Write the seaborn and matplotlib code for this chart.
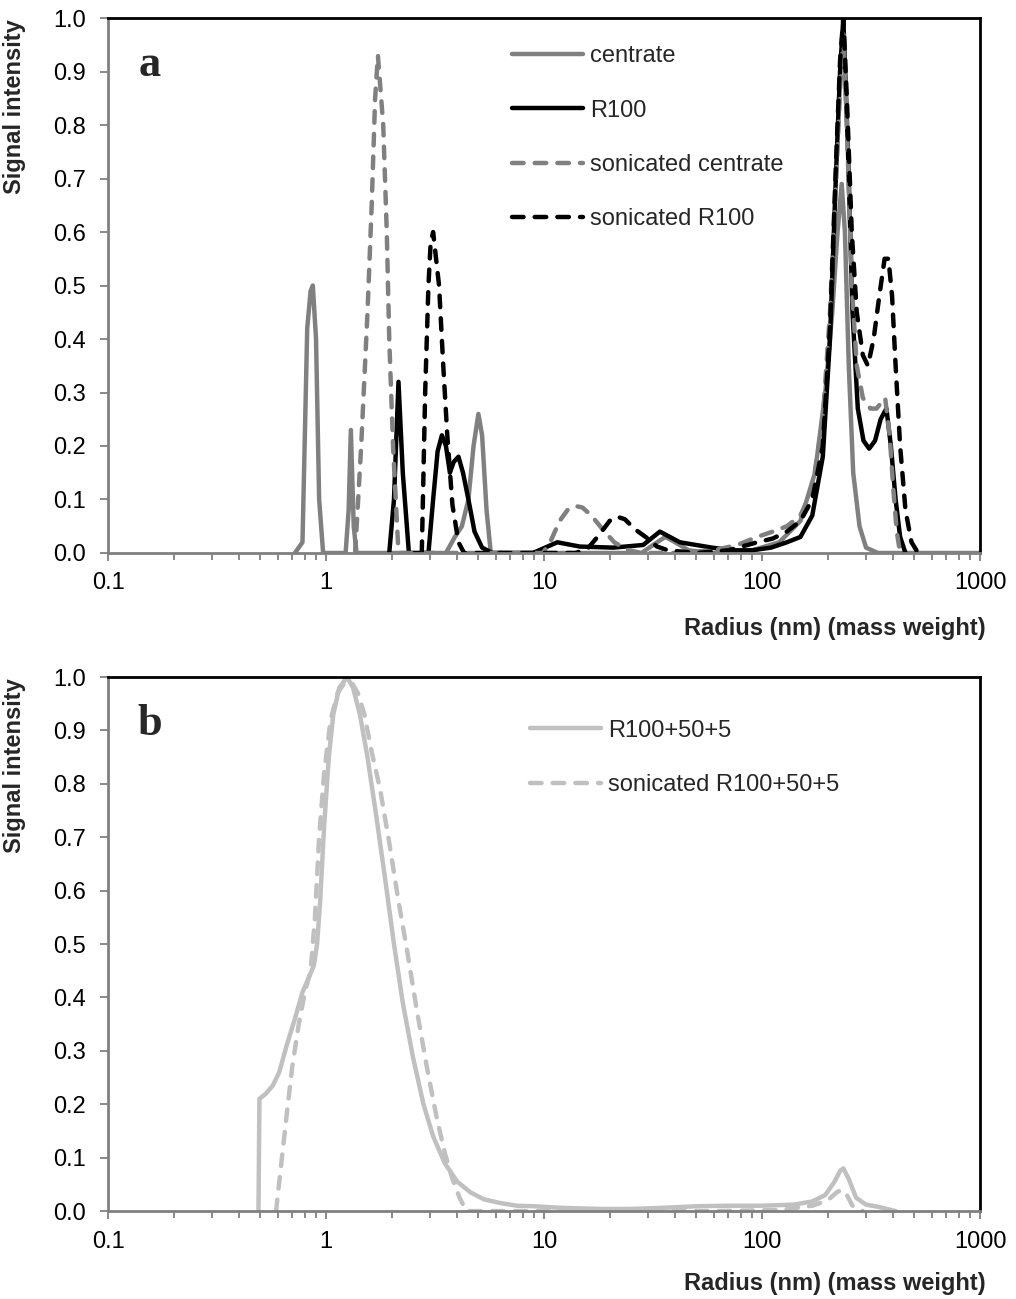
import numpy as np
import pandas as pd
import matplotlib
matplotlib.use("Agg")
import matplotlib.pyplot as plt
import seaborn as sns

# ---- panel a: radius (nm) and signal intensity ----
centrate_r = [0.72, 0.78, 0.82, 0.85, 0.87, 0.90, 0.93, 0.97, 1.23, 1.27, 1.30, 1.34, 1.38,
              3.55, 3.9, 4.2, 4.5, 4.75, 5.0, 5.2, 5.45, 5.7, 28, 33, 36, 40, 46, 60, 90,
              120, 150, 175, 195, 210, 222, 232, 240, 250, 262, 280, 300, 340, 1000]
centrate_y = [0, 0.02, 0.42, 0.49, 0.50, 0.40, 0.10, 0, 0, 0.08, 0.23, 0.05, 0,
              0, 0.03, 0.05, 0.10, 0.20, 0.26, 0.22, 0.08, 0, 0, 0.02, 0.03, 0.02, 0.005, 0, 0.005,
              0.02, 0.06, 0.15, 0.30, 0.45, 0.60, 0.69, 0.60, 0.35, 0.15, 0.05, 0.01, 0, 0]

r100_r = [1.95, 2.05, 2.15, 2.25, 2.4, 2.95, 3.1, 3.25, 3.4, 3.55, 3.7, 3.85, 4.05, 4.25, 4.5,
          4.8, 5.2, 5.8, 8.9, 11.5, 14.6, 20.8, 28.5, 34, 42, 59, 73, 90, 110, 130, 150, 170,
          190, 205, 218, 228, 236, 248, 260, 275, 292, 310, 330, 350, 372, 390, 410, 430, 455]
r100_y = [0, 0.10, 0.32, 0.15, 0, 0, 0.10, 0.19, 0.22, 0.20, 0.15, 0.17, 0.18, 0.15, 0.10,
          0.04, 0.01, 0, 0, 0.02, 0.012, 0.01, 0.015, 0.04, 0.02, 0.01, 0.005, 0.005, 0.01, 0.02, 0.03, 0.07,
          0.18, 0.40, 0.70, 0.90, 1.0, 0.75, 0.45, 0.27, 0.21, 0.195, 0.21, 0.25, 0.27, 0.20, 0.10, 0.03, 0]

son_centrate_r = [1.36, 1.45, 1.55, 1.62, 1.68, 1.73, 1.83, 1.90, 1.95, 2.03, 2.15, 9.9, 10.8,
                  11.8, 12.8, 13.9, 15.0, 16.5, 18.5, 21, 24, 28, 40, 60, 77, 95, 112, 130,
                  150, 170, 190, 205, 220, 230, 236, 245, 258, 272, 290, 314, 335, 367, 385,
                  400, 415, 430]
son_centrate_y = [0, 0.20, 0.45, 0.65, 0.85, 0.93, 0.80, 0.60, 0.40, 0.20, 0, 0, 0.025,
                  0.06, 0.08, 0.088, 0.085, 0.07, 0.045, 0.02, 0.006, 0, 0, 0.005, 0.015, 0.03, 0.04, 0.05,
                  0.07, 0.12, 0.25, 0.45, 0.72, 0.90, 0.97, 0.80, 0.50, 0.35, 0.29, 0.27, 0.27, 0.29, 0.22,
                  0.12, 0.04, 0]

son_r100_r = [2.75, 2.85, 2.95, 3.02, 3.1, 3.3, 3.45, 3.6, 3.8, 4.05, 4.3, 14, 16, 18, 20,
              21.6, 23.5, 26, 29.7, 33, 37, 50, 70, 95, 112, 130, 150, 170, 190, 205, 218,
              228, 236, 245, 258, 272, 290, 306, 325, 345, 365, 380, 395, 410, 430, 455, 485, 520]
son_r100_y = [0, 0.30, 0.50, 0.58, 0.60, 0.50, 0.35, 0.22, 0.09, 0.02, 0, 0, 0.01, 0.035, 0.06,
              0.068, 0.063, 0.045, 0.028, 0.012, 0.005, 0, 0.005, 0.02, 0.027, 0.04, 0.06, 0.10, 0.20, 0.42, 0.72,
              0.92, 1.0, 0.85, 0.60, 0.45, 0.37, 0.35, 0.40, 0.48, 0.55, 0.55, 0.48, 0.35, 0.20, 0.08, 0.02, 0]

# ---- panel b ----
mix_r = [0.49, 0.495, 0.53, 0.57, 0.61, 0.66, 0.72, 0.78, 0.84, 0.88, 0.91, 0.94, 0.98, 1.03,
         1.08, 1.15, 1.25, 1.33, 1.43, 1.55, 1.7, 1.87, 2.05, 2.25, 2.5, 2.8, 3.1, 3.5, 4.0,
         4.6, 5.3, 6.3, 7.5, 9, 12, 18, 25, 35, 50, 70, 100, 140, 170, 195, 215, 228, 236,
         250, 270, 300, 340, 410]
mix_y = [0, 0.21, 0.22, 0.235, 0.26, 0.31, 0.36, 0.41, 0.44, 0.46, 0.50, 0.58, 0.72, 0.85,
         0.93, 0.98, 1.0, 0.98, 0.93, 0.85, 0.74, 0.62, 0.50, 0.39, 0.29, 0.20, 0.14, 0.09, 0.055,
         0.035, 0.022, 0.015, 0.01, 0.009, 0.006, 0.004, 0.004, 0.006, 0.009, 0.01, 0.01, 0.012, 0.018, 0.03, 0.055, 0.075, 0.08,
         0.06, 0.025, 0.012, 0.008, 0]

son_mix_r = [0.59, 0.62, 0.66, 0.70, 0.75, 0.80, 0.85, 0.89, 0.93, 0.98, 1.05, 1.13, 1.22, 1.31,
             1.4, 1.5, 1.62, 1.77, 1.95, 2.15, 2.35, 2.6, 2.9, 3.2, 3.5, 3.8, 4.1, 4.4, 10, 60,
             120, 170, 200, 220, 232, 245, 260, 290]
son_mix_y = [0, 0.08, 0.18, 0.27, 0.35, 0.41, 0.45, 0.55, 0.70, 0.82, 0.92, 0.97, 0.99, 0.99,
             0.97, 0.93, 0.86, 0.79, 0.69, 0.58, 0.49, 0.38, 0.27, 0.18, 0.11, 0.06, 0.025, 0, 0, 0,
             0.002, 0.01, 0.02, 0.035, 0.04, 0.03, 0.01, 0]

x_ticks = [0.1, 1, 10, 100, 1000]
x_ticklabels = ['0.1', '1', '10', '100', '1000']

sns.set_style('white')
plt.rcParams['font.family'] = ['Liberation Sans', 'DejaVu Sans']

GREY = '#808080'
LIGHT = '#c0c0c0'
DASH = (0, (2.6, 2.5))
FS = 17

fig = plt.figure(figsize=(10.16, 12.99), dpi=100)
ax_a = fig.add_axes([0.1063, 0.5743, 0.8583, 0.4118])
ax_b = fig.add_axes([0.1063, 0.0677, 0.8583, 0.4111])


def draw(ax, r, y, label, color, ls):
    sns.lineplot(x=r, y=y, ax=ax, color=color, linewidth=3.2, label=label,
                 estimator=None, sort=False, linestyle=ls,
                 solid_capstyle='round', dash_capstyle='round', solid_joinstyle='round')


draw(ax_a, centrate_r, centrate_y, 'centrate', GREY, '-')
draw(ax_a, r100_r, r100_y, 'R100', 'black', '-')
draw(ax_a, son_centrate_r, son_centrate_y, 'sonicated centrate', GREY, DASH)
draw(ax_a, son_r100_r, son_r100_y, 'sonicated R100', 'black', DASH)

draw(ax_b, mix_r, mix_y, 'R100+50+5', LIGHT, '-')
draw(ax_b, son_mix_r, son_mix_y, 'sonicated R100+50+5', LIGHT, DASH)

for ax, letter, leg_xy, lab_y in [(ax_a, 'a', (0.463, 0.949), -0.12),
                                  (ax_b, 'b', (0.484, 0.920), -0.114)]:
    ax.set_xscale('log')
    ax.set_xlim(0.1, 1000)
    ax.set_ylim(0, 1.0)
    ax.set_xticks(x_ticks)
    ax.set_xticklabels(x_ticklabels)
    ax.set_yticks(np.arange(0, 1.01, 0.1))
    ax.set_yticklabels([f'{v:.1f}' for v in np.arange(0, 1.01, 0.1)])
    ax.tick_params(axis='both', which='major', direction='out', length=6, width=1.3,
                   color=GREY, labelsize=FS, labelcolor='black', left=True, bottom=True)
    ax.tick_params(axis='y', pad=10)
    ax.tick_params(axis='x', pad=8)
    ax.tick_params(axis='x', which='minor', direction='out', length=5, width=1.3,
                   color=GREY, bottom=True)
    for side in ['left', 'bottom']:
        ax.spines[side].set_color(GREY)
        ax.spines[side].set_linewidth(2)
    for side in ['top', 'right']:
        ax.spines[side].set_color('black')
        ax.spines[side].set_linewidth(2)
    ax.grid(False)

    ax.set_ylabel('Signal intensity', fontsize=FS, fontweight='bold')
    ax.yaxis.set_label_coords(-0.094, 0.835)
    ax.set_xlabel('Radius (nm) (mass weight)', fontsize=FS, fontweight='bold')
    ax.xaxis.set_label_coords(1.006, lab_y)
    ax.xaxis.label.set_ha('right')

    ax.text(0.048, 0.912, letter, transform=ax.transAxes, ha='center', va='center',
            fontsize=32, fontweight='bold', family=['Liberation Serif', 'DejaVu Serif'])

    ax.legend(loc='upper left', bbox_to_anchor=leg_xy, frameon=False, fontsize=FS,
              handlelength=3.0, handletextpad=0.3, labelspacing=1.37,
              borderpad=0, borderaxespad=0)

fig.savefig('out.png', dpi=100)
